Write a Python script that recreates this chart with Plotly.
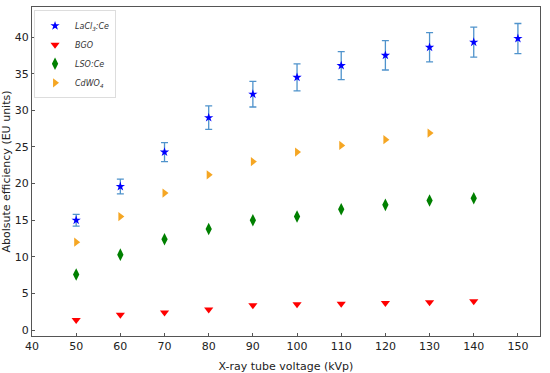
import plotly.graph_objects as go

kvp = [50, 60, 70, 80, 90, 100, 110, 120, 130, 140, 150]
lacl3 = [15.0, 19.6, 24.3, 29.0, 32.2, 34.5, 36.1, 37.5, 38.6, 39.3, 39.8]
lacl3_err = [0.8, 1.0, 1.3, 1.6, 1.75, 1.85, 1.9, 2.0, 2.0, 2.05, 2.05]
kvp_short = [50, 60, 70, 80, 90, 100, 110, 120, 130, 140]
bgo = [1.4, 2.1, 2.4, 2.8, 3.4, 3.55, 3.6, 3.7, 3.8, 3.95]
lso = [7.6, 10.3, 12.4, 13.8, 15.0, 15.5, 16.5, 17.1, 17.7, 18.0]
kvp_cd = [50, 60, 70, 80, 90, 100, 110, 120, 130]
cdwo4 = [12.0, 15.5, 18.7, 21.2, 23.0, 24.3, 25.2, 26.0, 26.9]

x_ticks = list(range(40, 151, 10))
y_ticks = list(range(0, 41, 5))

fig = go.Figure()
fig.add_trace(go.Scatter(
    x=kvp, y=lacl3, mode="markers", name="<i>LaCl<sub>3</sub>:Ce</i>",
    marker=dict(symbol="star", size=7, color="#0000ff"),
    error_y=dict(type="data", array=lacl3_err, visible=True,
                 color="#4f93cc", thickness=1.3, width=3.5),
))
fig.add_trace(go.Scatter(
    x=kvp_short, y=bgo, mode="markers", name="<i>BGO</i>",
    marker=dict(symbol="triangle-down", size=8, color="#ff0000"),
))
fig.add_trace(go.Scatter(
    x=kvp_short, y=lso, mode="markers", name="<i>LSO:Ce</i>",
    marker=dict(symbol="diamond-tall", size=9, color="#008000"),
))
fig.add_trace(go.Scatter(
    x=kvp_cd, y=cdwo4, mode="markers", name="<i>CdWO<sub>4</sub></i>",
    marker=dict(symbol="triangle-right", size=8, color="#f5a623"),
))

axis_common = dict(
    showgrid=False, zeroline=False, showline=True, linecolor="#555555",
    linewidth=1, mirror=True, ticks="inside", ticklen=3, tickcolor="#555555",
    tickfont=dict(family="DejaVu Sans", size=11, color="#222222"),
    automargin=False,
)

fig.update_layout(
    width=550, height=373,
    margin=dict(l=32, r=10, t=7, b=37),
    paper_bgcolor="white", plot_bgcolor="white",
    font=dict(family="DejaVu Sans", color="#222222"),
    xaxis=dict(range=[40, 155], tickvals=x_ticks,
               title=dict(text="X-ray tube voltage (kVp)", font=dict(size=11)),
               **axis_common),
    yaxis=dict(range=[-0.8, 44.1], tickvals=y_ticks,
               title=dict(text="Abolsute efficiency (EU units)", font=dict(size=11)),
               **axis_common),
    legend=dict(x=0.004, y=0.99, xanchor="left", yanchor="top",
                bgcolor="white", bordercolor="#dddddd", borderwidth=1,
                font=dict(size=8, color="#333333"), tracegroupgap=0,
                itemwidth=30),
    showlegend=True,
)

fig.write_html(
    "out.html",
    config={"displayModeBar": False},
    post_script="document.body.style.margin='0';document.body.style.overflow='hidden';",
)
